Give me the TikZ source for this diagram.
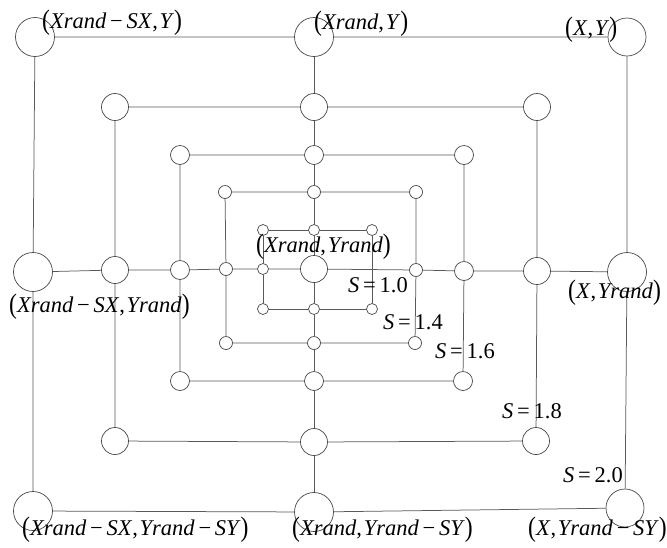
\documentclass[tikz,border=0pt]{standalone}
\usepackage{fontspec}
\usepackage{graphicx}
\setmainfont{Liberation Serif}
\newcommand\lpar{\raisebox{-1.5pt}{\scalebox{1.05}[1.25]{(}}}
\newcommand\rpar{\raisebox{-1.5pt}{\scalebox{1.05}[1.25]{)}}}
\newcommand\mn{\,\char"2212\,}
\newcommand\cm{,\hspace{0.08em}}
\begin{document}
\begin{tikzpicture}[x=1pt,y=-1pt,
  cnode/.style={circle, draw=black!72, fill=white, line width=0.7pt, inner sep=0pt, minimum size=#1},
  ln/.style={draw=black!65, line width=0.75pt},
  lbl/.style={inner sep=0pt, anchor=base west, font=\fontsize{22.5}{25}\selectfont}]
\useasboundingbox (0,0) rectangle (667,547);
% S = 2.0
\node[cnode=39pt] (aTL) at (35,37) {};
\node[cnode=39pt] (aT)  at (314,37) {};
\node[cnode=38pt] (aTR) at (627,37) {};
\node[cnode=39pt] (aL)  at (33,272) {};
\node[cnode=39pt] (aR)  at (627,272) {};
\node[cnode=39pt] (aBL) at (33,511) {};
\node[cnode=39pt] (aB)  at (314,512) {};
\node[cnode=38pt] (aBR) at (625,508) {};
% S = 1.8
\node[cnode=27pt] (bTL) at (115,107) {};
\node[cnode=27pt] (bT)  at (314,107) {};
\node[cnode=27pt] (bTR) at (537,107) {};
\node[cnode=27pt] (bL)  at (115,270) {};
\node[cnode=27pt] (bR)  at (537,271) {};
\node[cnode=27pt] (bBL) at (115,441) {};
\node[cnode=27pt] (bB)  at (314,442) {};
\node[cnode=27pt] (bBR) at (536,441) {};
% S = 1.6
\node[cnode=19pt] (cTL) at (180,155) {};
\node[cnode=19pt] (cT)  at (314,155) {};
\node[cnode=19pt] (cTR) at (464,155) {};
\node[cnode=19pt] (cL)  at (180,270) {};
\node[cnode=19pt] (cR)  at (464,271) {};
\node[cnode=19pt] (cBL) at (180,381) {};
\node[cnode=19pt] (cB)  at (314,381) {};
\node[cnode=19pt] (cBR) at (463,381) {};
% S = 1.4
\node[cnode=13pt] (dTL) at (225,192) {};
\node[cnode=13pt] (dT)  at (314,192) {};
\node[cnode=13pt] (dTR) at (416,192) {};
\node[cnode=13pt] (dL)  at (226,269) {};
\node[cnode=13pt] (dR)  at (416,270) {};
\node[cnode=13pt] (dBL) at (226,343) {};
\node[cnode=13pt] (dB)  at (314,343) {};
\node[cnode=13pt] (dBR) at (415,343) {};
% S = 1.0
\node[cnode=11pt] (eTL) at (263,230) {};
\node[cnode=11pt] (eT)  at (314,230) {};
\node[cnode=11pt] (eTR) at (372,230) {};
\node[cnode=11pt] (eL)  at (263,269) {};
\node[cnode=11pt] (eBL) at (263,309) {};
\node[cnode=11pt] (eB)  at (314,309) {};
\node[cnode=11pt] (eBR) at (372,309) {};
% centre
\node[cnode=27pt] (o) at (314,269) {};
% squares
\draw[ln] (aTL)--(aT)--(aTR)--(aR)--(aBR)--(aB)--(aBL)--(aL)--(aTL);
\draw[ln] (bTL)--(bT)--(bTR)--(bR)--(bBR)--(bB)--(bBL)--(bL)--(bTL);
\draw[ln] (cTL)--(cT)--(cTR)--(cR)--(cBR)--(cB)--(cBL)--(cL)--(cTL);
\draw[ln] (dTL)--(dT)--(dTR)--(dR)--(dBR)--(dB)--(dBL)--(dL)--(dTL);
\draw[ln] (eTL)--(eT)--(eTR)--(eBR)--(eB)--(eBL)--(eL)--(eTL);
% cross
\draw[ln] (aT)--(bT)--(cT)--(dT)--(eT)--(o)--(eB)--(dB)--(cB)--(bB)--(aB);
\draw[ln] (aL)--(bL)--(cL)--(dL)--(eL)--(o)--(dR)--(cR)--(bR)--(aR);
% coordinate labels
\node[lbl] (l1) at (42,28) {\lpar\textit{Xrand}\mn\textit{SX}\cm\textit{Y}\rpar};
\node[lbl] (l2) at (314,29) {\lpar\textit{Xrand}\cm\textit{Y}\rpar};
\node[lbl] (l3) at (565,35) {\lpar\textit{X}\cm\textit{Y}\rpar};
\node[lbl] (l4) at (256,252) {\lpar\textit{Xrand}\cm\textit{Yrand}\rpar};
\node[lbl] (l5) at (9,312) {\lpar\textit{Xrand}\mn\textit{SX}\cm\textit{Yrand}\rpar};
\node[lbl] (l6) at (568,298) {\lpar\textit{X}\cm\textit{Yrand}\rpar};
\node[lbl] (l7) at (22,535) {\lpar\textit{Xrand}\mn\textit{SX}\cm\textit{Yrand}\mn\textit{SY}\rpar};
\node[lbl] (l8) at (292,535) {\lpar\textit{Xrand}\cm\textit{Yrand}\mn\textit{SY}\rpar};
\node[lbl] (l9) at (528,535) {\lpar\textit{X}\cm\textit{Yrand}\mn\textit{SY}\rpar};
% scale labels
\node[lbl] (s1) at (348,292) {\textit{S}\,=\,1.0};
\node[lbl] (s2) at (383,329) {\textit{S}\,=\,1.4};
\node[lbl] (s3) at (435,358) {\textit{S}\,=\,1.6};
\node[lbl] (s4) at (502,418) {\textit{S}\,=\,1.8};
\node[lbl] (s5) at (563,482) {\textit{S}\,=\,2.0};
\end{tikzpicture}
\end{document}
